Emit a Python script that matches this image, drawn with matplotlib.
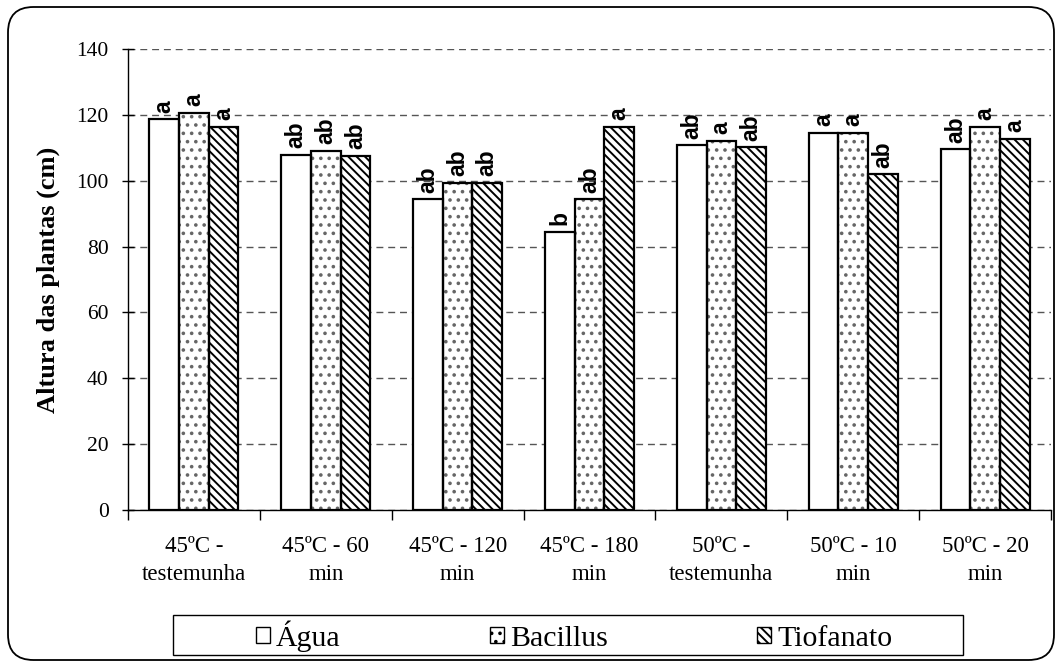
import matplotlib
matplotlib.use("Agg")
import matplotlib.pyplot as plt
import numpy as np
from matplotlib.patches import FancyBboxPatch, Rectangle

categories = ["45ºC -\ntestemunha", "45ºC - 60\nmin", "45ºC - 120\nmin", "45ºC - 180\nmin",
              "50ºC -\ntestemunha", "50ºC - 10\nmin", "50ºC - 20\nmin"]
series_names = ["Água", "Bacillus", "Tiofanato"]
agua = [118.7, 107.8, 94.4, 84.4, 110.8, 114.5, 109.6]
bacillus = [120.6, 109.0, 99.3, 94.4, 112.1, 114.5, 116.3]
tiofanato = [116.3, 107.5, 99.3, 116.3, 110.2, 102.0, 112.7]
letters_agua = ["a", "ab", "ab", "b", "ab", "a", "ab"]
letters_bacillus = ["a", "ab", "ab", "ab", "a", "a", "a"]
letters_tiofanato = ["a", "ab", "ab", "a", "ab", "ab", "a"]
yticks = [0, 20, 40, 60, 80, 100, 120, 140]

plt.rcParams['hatch.linewidth'] = 1.4
fig = plt.figure(figsize=(10.61, 6.65), dpi=100)
W, H = 1061, 665
ax = fig.add_axes([128 / W, 1 - 510 / H, (1051 - 128) / W, (510 - 49) / H])

serif = "Liberation Serif"
x = np.arange(len(categories))
w = 0.225
data = [agua, bacillus, tiofanato]
letters = [letters_agua, letters_bacillus, letters_tiofanato]
hatches = [None, "..", "\\\\\\\\"]
hatch_cols = ["black", "#666666", "black"]
offs = [-w, 0, w]
handles = []
for vals, lets, h, hc, o, name in zip(data, letters, hatches, hatch_cols, offs, series_names):
    # hatch layer
    ax.bar(x + o, vals, w, facecolor="white", edgecolor=hc, linewidth=0,
           hatch=h, zorder=3)
    # outline layer
    ax.bar(x + o, vals, w, facecolor="none", edgecolor="black", linewidth=1.6, zorder=4)
    for xi, v, l in zip(x + o, vals, lets):
        ax.text(xi, v + 2.0, l, rotation=90, ha="center", va="bottom",
                fontsize=16.5, fontweight="bold", family="Liberation Sans")

# legend handles
for h, hc, name in zip(hatches, hatch_cols, series_names):
    handles.append(Rectangle((0, 0), 1, 1, facecolor="white", edgecolor="black",
                             hatch=h, linewidth=1.0))

ax.set_xlim(-0.5, len(categories) - 0.5)
ax.set_ylim(0, 140)
ax.set_yticks(yticks)
ax.set_yticklabels([str(t) for t in yticks], fontsize=15.5, family=serif)
ax.yaxis.grid(True, linestyle=(0, (5, 3.5)), color="#555555", linewidth=1.0, zorder=0)
ax.set_axisbelow(True)
ax.set_xticks(x)
ax.set_xticklabels(categories, fontsize=16.5, family=serif, linespacing=1.4)
ax.tick_params(axis="x", length=0, pad=19)
ax.set_xticks(np.arange(-0.5, len(categories) - 0.4, 1), minor=True)
ax.tick_params(axis="x", which="minor", length=7, direction="out", width=1)
ax.tick_params(axis="y", length=8, direction="inout", width=1, pad=10)
for s in ["top", "right"]:
    ax.spines[s].set_visible(False)
ax.spines["left"].set_linewidth(1)
ax.spines["bottom"].set_linewidth(1)
ax.set_ylabel("Altura das plantas (cm)", fontsize=19, fontweight="bold", family=serif, labelpad=12)

# legend box
fig.patches.append(Rectangle((173 / W, 1 - 655 / H), (963 - 173) / W, (655 - 615) / H,
                             transform=fig.transFigure, fill=False, edgecolor="black",
                             linewidth=1.0))
leg = fig.legend(handles=handles, labels=series_names, loc="center",
                 bbox_to_anchor=(574 / W, 1 - 636 / H), ncol=3, frameon=False,
                 prop={"family": serif, "size": 21.5}, handlelength=0.47, handleheight=0.47,
                 handletextpad=0.2, columnspacing=5.0, borderpad=0.0)

frame = FancyBboxPatch((8 / W, 5 / H), (1054 - 8) / W, (658 - 5) / H,
                       boxstyle="round,pad=0,rounding_size=0.024",
                       transform=fig.transFigure, fill=False, edgecolor="black", linewidth=1.3,
                       mutation_aspect=W / H)
fig.patches.append(frame)

fig.savefig("out.png", dpi=100)
